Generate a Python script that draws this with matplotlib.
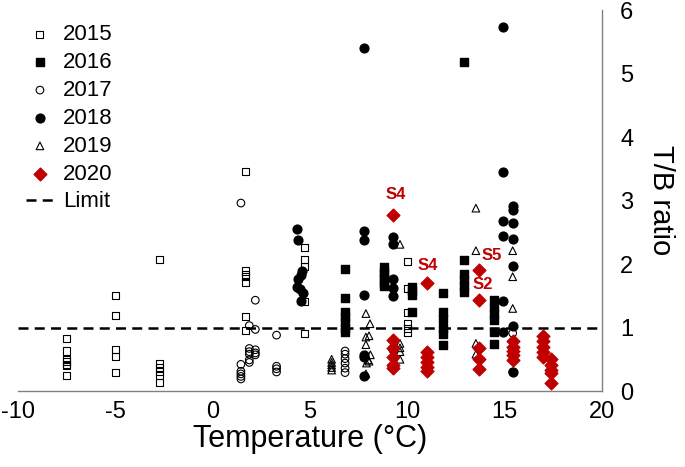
import numpy as np
import matplotlib.pyplot as plt

plt.rcParams['font.family'] = ['Liberation Sans', 'DejaVu Sans']
plt.rcParams['axes.unicode_minus'] = False

# 2015 - open squares
t2015 = [-7.5]*7 + [-5]*5 + [-2.75]*6 + [1.67]*7 + [4.7]*5 + [10.0]*6
r2015 = [0.83, 0.63, 0.50, 0.46, 0.42, 0.40, 0.24,
         1.50, 1.19, 0.66, 0.54, 0.29,
         2.07, 0.44, 0.37, 0.31, 0.24, 0.14,
         3.46, 1.89, 1.84, 1.80, 1.71, 1.17, 0.96,
         2.26, 2.07, 1.96, 1.41, 0.91,
         2.04, 1.61, 1.23, 1.07, 0.99, 0.92]

# 2016 - filled squares
t2016 = [6.8]*7 + [8.8]*6 + [10.22]*4 + [11.81]*6 + [12.92]*6 + [14.45]*6
r2016 = [1.92, 1.47, 1.25, 1.16, 1.08, 1.00, 0.93,
         1.95, 1.88, 1.82, 1.76, 1.70, 1.65,
         1.64, 1.57, 1.51, 1.25,
         1.55, 1.24, 1.14, 1.00, 0.90, 0.72,
         5.18, 2.06, 1.85, 1.75, 1.65, 1.56,
         1.43, 1.32, 1.22, 1.12, 0.93, 0.74]

# 2017 - open circles
t2017 = [1.45]*6 + [1.88]*6 + [2.19]*5 + [3.28]*4 + [6.8]*6 + [15.41]*2
r2017 = [2.96, 0.42, 0.31, 0.27, 0.23, 0.19,
         1.03, 0.67, 0.62, 0.58, 0.49, 0.45,
         1.43, 0.97, 0.65, 0.60, 0.57,
         0.88, 0.39, 0.35, 0.30,
         0.63, 0.58, 0.51, 0.44, 0.36, 0.29,
         0.91, 0.30]

# 2018 - filled circles
t2018 = [4.35, 4.4, 4.6, 4.55, 4.4, 4.35, 4.5, 4.65, 4.55] + [7.79]*7 + [9.28]*6 + [14.93]*6 + [15.41]*7
r2018 = [2.55, 2.38, 1.89, 1.82, 1.76, 1.64, 1.60, 1.55, 1.42,
         5.40, 2.52, 2.38, 1.52, 0.56, 0.53, 0.23,
         2.42, 2.31, 1.76, 1.63, 1.50, 0.66,
         5.74, 3.45, 2.67, 2.44, 1.41, 0.93,
         2.91, 2.85, 2.64, 2.40, 1.97, 1.03, 0.30]

# 2019 - open triangles
t2019 = ([6.11]*5 + [7.87, 8.08, 8.03, 7.87, 7.87, 7.87, 8.1, 7.98, 7.9, 8.03, 7.87]
         + [9.62]*5 + [13.52]*4 + [15.41]*3)
r2019 = [0.50, 0.45, 0.41, 0.37, 0.33,
         1.22, 1.06, 0.87, 0.85, 0.73, 0.57, 0.57, 0.49, 0.44, 0.47, 0.27,
         2.31, 0.75, 0.68, 0.62, 0.50,
         2.88, 2.21, 0.75, 0.58,
         2.21, 1.80, 1.30]

# 2020 - red diamonds
t2020 = [9.28]*6 + [11.02]*6 + [13.7]*5 + [15.41]*5 + [16.98]*5 + [17.38]*5
r2020 = [2.77, 0.80, 0.67, 0.54, 0.41, 0.36,
         1.70, 0.62, 0.54, 0.46, 0.38, 0.32,
         1.91, 1.44, 0.68, 0.50, 0.35,
         0.78, 0.70, 0.63, 0.57, 0.49,
         0.86, 0.78, 0.70, 0.62, 0.54,
         0.51, 0.41, 0.33, 0.28, 0.13]

site_labels = ['S4', 'S4', 'S5', 'S2']
site_t = [9.41, 11.02, 14.33, 13.87]
site_r = [3.09, 1.97, 2.13, 1.67]

limit = 1.0
red = '#C00000'

fig = plt.figure(figsize=(6.85, 4.67), dpi=100)
ax = fig.add_axes([0.0263, 0.1627, 0.8526, 0.8158])

ax.scatter(t2015, r2015, marker='s', s=26, facecolors='none', edgecolors='black', linewidths=0.8, label='2015', zorder=3)
ax.scatter(t2016, r2016, marker='s', s=32, color='black', label='2016', zorder=3)
ax.scatter(t2017, r2017, marker='o', s=30, facecolors='none', edgecolors='black', linewidths=0.8, label='2017', zorder=3)
ax.scatter(t2018, r2018, marker='o', s=40, color='black', label='2018', zorder=3)
ax.scatter(t2019, r2019, marker='^', s=30, facecolors='none', edgecolors='black', linewidths=0.8, label='2019', zorder=3)
ax.scatter(t2020, r2020, marker='D', s=42, color=red, label='2020', zorder=4)
ax.plot([-10, 20], [limit, limit], color='black', linestyle=(0, (4, 2.5)), linewidth=1.8, label='Limit', zorder=2)

for lab, t, r in zip(site_labels, site_t, site_r):
    ax.text(t, r, lab, color=red, fontsize=12, fontweight='bold', ha='center', va='center')

ax.set_xlim(-10, 20)
ax.set_ylim(0, 6)
ax.set_xticks([-10, -5, 0, 5, 10, 15, 20])
ax.set_yticks([0, 1, 2, 3, 4, 5, 6])
ax.yaxis.tick_right()
ax.yaxis.set_label_position('right')
ax.tick_params(axis='both', length=0, labelsize=17)
ax.tick_params(axis='y', pad=13)
ax.tick_params(axis='x', pad=7)
for side in ['left', 'top']:
    ax.spines[side].set_visible(False)
for side in ['bottom', 'right']:
    ax.spines[side].set_color('#808080')
    ax.spines[side].set_linewidth(1.0)

ax.set_xlabel('Temperature (°C)', fontsize=22, labelpad=1)
ax.set_ylabel('T/B ratio', fontsize=21, rotation=270, labelpad=30)

ax.legend(loc='upper left', bbox_to_anchor=(-0.01, 0.998), frameon=False, fontsize=16,
          handlelength=1.3, handletextpad=0.4, labelspacing=0.31, borderaxespad=0.2)

plt.savefig('out.png', dpi=100)
